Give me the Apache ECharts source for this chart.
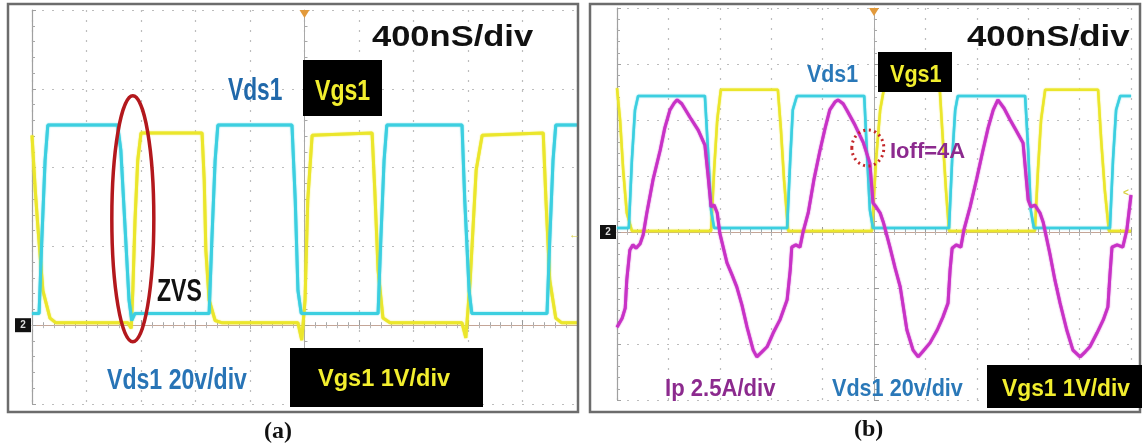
<!DOCTYPE html>
<html>
<head>
<meta charset="utf-8">
<script src="https://cdn.jsdelivr.net/npm/echarts@6/dist/echarts.min.js"></script>
<style>
  html, body { margin: 0; padding: 0; background: #ffffff; }
  #scope { width: 1142px; height: 446px; }
</style>
</head>
<body>
<div id="scope"></div>
<script>
// Oscilloscope captures. Time in horizontal divisions (400 ns/div) from the trigger,
// amplitude in vertical divisions above each panel's ground marker.

// (a) Vds1 (20 V/div) and Vgs1 (1 V/div)
const vdsA_t = [-5.00, -4.87, -4.82, -4.76, -4.71, -3.43, -3.37, -3.29, -3.22, -3.17, -3.11, -1.75, -1.70, -1.64, -1.59, -0.23, -0.17, -0.12, -0.06, 1.35, 1.40, 1.46, 1.51, 2.89, 2.94, 3.02, 3.07, 4.45, 4.50, 4.56, 4.61, 5.00];
const vdsA_v = [0.15, 0.15, 1.08, 2.09, 2.54, 2.54, 2.22, 1.21, 0.32, 0.06, 0.15, 0.15, 1.08, 2.09, 2.54, 2.54, 1.59, 0.44, 0.15, 0.15, 1.08, 2.09, 2.54, 2.54, 1.59, 0.44, 0.15, 0.15, 1.08, 2.09, 2.54, 2.54];

const vgsA_t = [-5.00, -4.94, -4.89, -4.80, -4.67, -4.56, -3.24, -3.18, -3.15, -3.11, -3.06, -3.00, -1.88, -1.84, -1.81, -1.75, -1.64, -1.51, -0.12, -0.05, 0.01, 0.06, 0.14, 1.24, 1.29, 1.35, 1.44, 1.57, 2.89, 2.96, 3.04, 3.15, 3.26, 4.38, 4.43, 4.50, 4.61, 4.72, 5.00];
const vgsA_v = [2.41, 1.71, 1.23, 0.44, 0.09, 0.03, 0.03, -0.04, 0.44, 1.33, 2.09, 2.44, 2.44, 1.84, 0.95, 0.32, 0.06, 0.03, 0.03, -0.19, 0.32, 1.59, 2.41, 2.44, 1.71, 0.70, 0.09, 0.03, 0.03, -0.16, 0.57, 1.97, 2.41, 2.44, 1.59, 0.57, 0.09, 0.03, 0.03];

// (b) Vds1 (20 V/div), Vgs1 (1 V/div), Ip (2.5 A/div)
const vdsB_t = [-5.00, -4.77, -4.71, -4.65, -4.59, -3.29, -3.23, -3.17, -3.11, -1.69, -1.63, -1.58, -1.50, -0.19, -0.14, -0.08, -0.02, 1.46, 1.52, 1.58, 1.63, 2.94, 3.00, 3.05, 3.11, 4.59, 4.65, 4.71, 4.79, 5.00];
const vdsB_v = [0.07, 0.07, 1.29, 2.18, 2.43, 2.43, 1.46, 0.39, 0.07, 0.07, 1.29, 2.18, 2.43, 2.43, 1.46, 0.39, 0.07, 0.07, 1.29, 2.18, 2.43, 2.43, 1.46, 0.39, 0.07, 0.07, 1.29, 2.18, 2.43, 2.43];

const vgsB_t = [-5.00, -4.94, -4.88, -4.81, -4.71, -3.17, -3.11, -3.05, -2.98, -1.87, -1.81, -1.75, -1.67, -0.04, 0.04, 0.12, 0.19, 1.28, 1.34, 1.40, 1.46, 3.13, 3.19, 3.25, 3.33, 4.36, 4.42, 4.49, 4.57, 5.00];
const vgsB_v = [2.57, 2.00, 1.11, 0.34, 0.02, 0.02, 1.11, 2.00, 2.54, 2.54, 1.82, 0.93, 0.02, 0.02, 1.29, 2.18, 2.54, 2.54, 1.64, 0.75, 0.02, 0.02, 1.11, 2.00, 2.54, 2.54, 1.64, 0.75, 0.02, 0.02];

const ipB_t = [-5.00, -4.90, -4.84, -4.81, -4.75, -4.69, -4.63, -4.55, -4.49, -4.42, -4.30, -4.16, -4.07, -3.97, -3.89, -3.83, -3.74, -3.58, -3.42, -3.29, -3.23, -3.17, -3.11, -3.05, -3.00, -2.86, -2.76, -2.67, -2.57, -2.47, -2.35, -2.28, -2.18, -2.08, -1.96, -1.83, -1.69, -1.63, -1.60, -1.52, -1.44, -1.38, -1.28, -1.17, -1.05, -0.95, -0.86, -0.76, -0.70, -0.60, -0.53, -0.37, -0.21, -0.08, -0.02, 0.04, 0.12, 0.18, 0.31, 0.41, 0.51, 0.64, 0.76, 0.86, 0.97, 1.09, 1.23, 1.34, 1.44, 1.48, 1.52, 1.60, 1.69, 1.75, 1.87, 2.00, 2.12, 2.22, 2.32, 2.41, 2.53, 2.65, 2.76, 2.90, 3.00, 3.05, 3.13, 3.23, 3.29, 3.42, 3.52, 3.62, 3.75, 3.87, 4.01, 4.11, 4.20, 4.34, 4.46, 4.55, 4.59, 4.63, 4.73, 4.84, 4.92, 5.00];
const ipB_v = [-1.70, -1.54, -1.36, -0.86, -0.32, -0.23, -0.29, -0.21, -0.05, 0.34, 0.93, 1.46, 1.86, 2.18, 2.30, 2.36, 2.29, 2.05, 1.82, 1.55, 1.02, 0.45, 0.48, 0.34, -0.02, -0.55, -0.77, -0.98, -1.30, -1.70, -2.11, -2.23, -2.14, -2.05, -1.80, -1.57, -1.21, -0.68, -0.27, -0.23, -0.27, 0.00, 0.34, 0.93, 1.46, 1.86, 2.18, 2.32, 2.36, 2.29, 2.18, 1.91, 1.60, 1.23, 0.52, 0.45, 0.34, 0.18, -0.27, -0.64, -0.98, -1.75, -2.11, -2.23, -2.11, -1.98, -1.75, -1.52, -1.27, -0.68, -0.29, -0.23, -0.27, 0.04, 0.45, 0.96, 1.46, 1.86, 2.18, 2.36, 2.21, 2.00, 1.82, 1.59, 0.57, 0.45, 0.48, 0.34, 0.18, -0.38, -0.86, -1.27, -1.75, -2.11, -2.23, -2.14, -2.05, -1.80, -1.57, -1.34, -0.77, -0.27, -0.23, -0.27, 0.04, 0.66];

// Graticule extents (divisions) of each panel
const xRange = [-5, 5];
const yRangeA = [-1, 4];
const yRangeB = [-3, 4];

const zip = (t, v) => t.map((x, i) => [x, v[i]]);

const COL_VDS = '#3ccfe0';
const COL_VGS = '#ebe62b';
const COL_IP = '#c832c6';
const GRID_DOT = '#bdbdbd';

function centerX(gridIndex) {
  return {
    type: 'value', gridIndex, min: xRange[0], max: xRange[1], interval: 1,
    axisLine: { show: true, onZero: true, lineStyle: { color: '#c4a597', width: 1 } },
    axisTick: { show: true, inside: true, length: 5, lineStyle: { color: '#9a9a9a' } },
    minorTick: { show: true, splitNumber: 5, length: 3, lineStyle: { color: '#a8a8a8' } },
    axisLabel: { show: false },
    splitLine: { show: true, lineStyle: { color: GRID_DOT, type: [2, 8], width: 1.2 } }
  };
}
function edgeX(gridIndex) {
  return {
    type: 'value', gridIndex, position: 'top', min: xRange[0], max: xRange[1], interval: 1,
    axisLine: { show: false },
    axisTick: { show: true, inside: true, length: 4, lineStyle: { color: '#b0b0b0' } },
    minorTick: { show: true, splitNumber: 5, length: 3, lineStyle: { color: '#b8b8b8' } },
    axisLabel: { show: false }, splitLine: { show: false }
  };
}
function centerY(gridIndex, r) {
  return {
    type: 'value', gridIndex, min: r[0], max: r[1], interval: 1,
    axisLine: { show: true, onZero: true, lineStyle: { color: '#a9a9a9', width: 1 } },
    axisTick: { show: true, inside: true, length: 5, lineStyle: { color: '#9a9a9a' } },
    minorTick: { show: true, splitNumber: 5, length: 3, lineStyle: { color: '#a8a8a8' } },
    axisLabel: { show: false },
    splitLine: { show: true, lineStyle: { color: GRID_DOT, type: [2, 8], width: 1.2 } }
  };
}
function edgeY(gridIndex, r) {
  return {
    type: 'value', gridIndex, position: 'left', min: r[0], max: r[1], interval: 1,
    axisLine: { show: true, onZero: false, lineStyle: { color: '#a0a0a0', width: 1.2 } },
    axisTick: { show: true, inside: true, length: 4, lineStyle: { color: '#a0a0a0' } },
    minorTick: { show: true, splitNumber: 5, length: 3, lineStyle: { color: '#a8a8a8' } },
    axisLabel: { show: false }, splitLine: { show: false }
  };
}
function trace(name, xi, yi, t, v, color, width, z) {
  return {
    name, type: 'line', xAxisIndex: xi, yAxisIndex: yi, data: zip(t, v),
    showSymbol: false, symbol: 'none', silent: true, z,
    lineStyle: { color, width, shadowColor: color, shadowBlur: 1.5 }
  };
}

const chart = echarts.init(document.getElementById('scope'), null, { renderer: 'canvas' });
chart.setOption({
  animation: false,
  backgroundColor: '#ffffff',
  grid: [
    { left: 32, top: 10, width: 545, height: 394 },
    { left: 617, top: 8, width: 514, height: 392 }
  ],
  xAxis: [centerX(0), edgeX(0), centerX(1), edgeX(1)],
  yAxis: [centerY(0, yRangeA), edgeY(0, yRangeA), centerY(1, yRangeB), edgeY(1, yRangeB)],
  series: [
    trace('Vgs1', 0, 0, vgsA_t, vgsA_v, COL_VGS, 3, 3),
    trace('Vds1', 0, 0, vdsA_t, vdsA_v, COL_VDS, 3, 4),
    trace('Vgs1', 2, 2, vgsB_t, vgsB_v, COL_VGS, 2.5, 3),
    trace('Vds1', 2, 2, vdsB_t, vdsB_v, COL_VDS, 2.5, 4),
    trace('Ip', 2, 2, ipB_t, ipB_v, COL_IP, 3, 5)
  ]
});

// Overlays: frames, captions, channel boxes and highlight marks
const SANS = '"Liberation Sans", Arial, sans-serif';
const SERIF = '"Liberation Serif", "Times New Roman", serif';
function txt(x, y, text, size, color, sx, family) {
  return {
    type: 'text', x, y, scaleX: sx || 1, z: 120,
    style: {
      text, x: 0, y: 0, fill: color, fontSize: size, fontWeight: 'bold',
      fontFamily: family || SANS,
      align: 'left', verticalAlign: 'middle', textAlign: 'left', textVerticalAlign: 'middle'
    }
  };
}
function box(x, y, w, h) {
  return { type: 'rect', z: 110, shape: { x, y, width: w, height: h }, style: { fill: '#000000' } };
}
function frame(x, y, w, h) {
  return { type: 'rect', z: 100, shape: { x, y, width: w, height: h },
    style: { fill: 'none', stroke: '#6c6c6c', lineWidth: 2.5 } };
}
function groundMark(p) {
  return [
    { type: 'rect', z: 110, shape: { x: p[0] - 17, y: p[1] - 7, width: 16, height: 14 }, style: { fill: '#111' } },
    { type: 'text', z: 111, x: p[0] - 9, y: p[1], style: { text: '2', fill: '#dddddd', fontSize: 10, fontWeight: 'bold', fontFamily: SANS, align: 'center', verticalAlign: 'middle', textAlign: 'center', textVerticalAlign: 'middle' } }
  ];
}
function trigMark(p) {
  return { type: 'polygon', z: 110, shape: { points: [[p[0] - 5, p[1]], [p[0] + 5, p[1]], [p[0], p[1] + 8]] },
    style: { fill: '#e29a3c' } };
}

const gA0 = chart.convertToPixel({ xAxisIndex: 0, yAxisIndex: 0 }, [xRange[0], 0]);
const gB0 = chart.convertToPixel({ xAxisIndex: 2, yAxisIndex: 2 }, [xRange[0], 0]);
const tA = chart.convertToPixel({ xAxisIndex: 0, yAxisIndex: 0 }, [0, yRangeA[1]]);
const tB = chart.convertToPixel({ xAxisIndex: 2, yAxisIndex: 2 }, [0, yRangeB[1]]);
const zvs = chart.convertToPixel({ xAxisIndex: 0, yAxisIndex: 0 }, [-3.15, 1.35]);
const ioff = chart.convertToPixel({ xAxisIndex: 2, yAxisIndex: 2 }, [-0.12, 1.5]);
const vgsLevelA = chart.convertToPixel({ xAxisIndex: 0, yAxisIndex: 0 }, [xRange[1], 1.15]);
const vgsLevelB = chart.convertToPixel({ xAxisIndex: 2, yAxisIndex: 2 }, [xRange[1], 0.7]);

const BLUE = '#2068aa';
const PURPLE = '#8c2a8e';
const YEL = '#f2ee2e';

chart.setOption({
  graphic: [
    frame(8, 4, 570, 408),
    frame(590, 4, 550, 408),
    ...groundMark(gA0),
    ...groundMark(gB0),
    trigMark([tA[0], tA[1]]),
    trigMark([tB[0], tB[1]]),
    txt(vgsLevelA[0] - 8, vgsLevelA[1], '\u2190', 11, '#d8d040'),
    txt(vgsLevelB[0] - 8, vgsLevelB[1], '<', 10, '#d8d040'),

    // panel (a)
    txt(372, 38, '400nS/div', 30, '#111111', 1.15),
    txt(228, 91, 'Vds1', 32, BLUE, 0.71),
    box(303, 60, 79, 56),
    txt(315, 92, 'Vgs1', 30, YEL, 0.77),
    txt(157, 292, 'ZVS', 32, '#111111', 0.72),
    txt(107, 381, 'Vds1 20v/div', 30, '#2874b6', 0.77),
    box(290, 348, 193, 59),
    txt(318, 379, 'Vgs1 1V/div', 24, YEL, 0.98),
    { type: 'ellipse', z: 115, shape: { cx: zvs[0], cy: zvs[1], rx: 21, ry: 123 },
      style: { fill: 'none', stroke: '#b3181d', lineWidth: 3.5 } },
    txt(264, 432, '(a)', 24, '#111111', 1, SERIF),

    // panel (b)
    txt(967, 38, '400nS/div', 30, '#111111', 1.16),
    txt(807, 75, 'Vds1', 24, '#2a78b8', 0.89),
    box(878, 52, 74, 40),
    txt(890, 75, 'Vgs1', 24, YEL, 0.9),
    { type: 'ellipse', z: 115, shape: { cx: ioff[0], cy: ioff[1], rx: 16, ry: 18 },
      style: { fill: 'none', stroke: '#c4282b', lineWidth: 3, lineDash: [2, 3.5] } },
    txt(890, 152, 'Ioff=4A', 22, PURPLE, 1.0),
    txt(665, 389, 'Ip 2.5A/div', 24, PURPLE, 0.92),
    txt(832, 389, 'Vds1 20v/div', 24, '#2a78b8', 0.9),
    box(987, 365, 155, 43),
    txt(1002, 389, 'Vgs1 1V/div', 24, YEL, 0.95),
    txt(854, 430, '(b)', 24, '#111111', 1, SERIF)
  ]
});
</script>
</body>
</html>
